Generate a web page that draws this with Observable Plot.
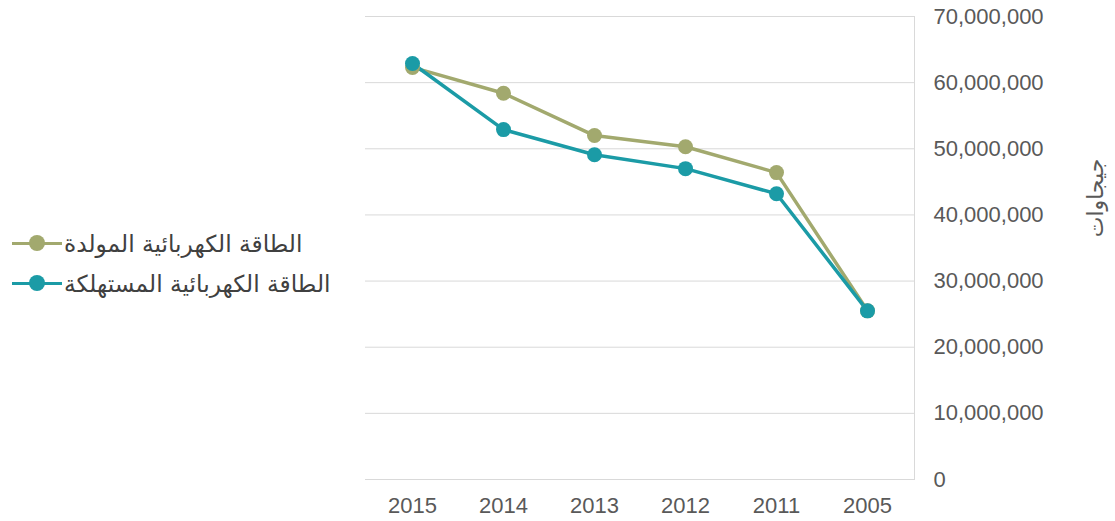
<!DOCTYPE html>
<html>
<head>
<meta charset="utf-8">
<script src="https://cdn.jsdelivr.net/npm/d3@7"></script>
<script src="https://cdn.jsdelivr.net/npm/@observablehq/plot@0.6"></script>
<style>
  html, body { margin: 0; padding: 0; background: #fff; }
  body { width: 1115px; height: 521px; position: relative; overflow: hidden;
         font-family: "Liberation Sans", "DejaVu Sans", Arial, sans-serif; }
  #chart { position: absolute; left: 0; top: 0; }
  #legend { position: absolute; left: 12px; top: 223px; color: #404040; font-size: 23.3px;
            font-family: "DejaVu Sans", "Noto Sans", sans-serif; }
  .item { display: flex; align-items: center; height: 40px; }
  .sym { position: relative; width: 50px; height: 16px; margin-right: 2px; }
  .sym .ln { position: absolute; left: 0; right: 0; top: 6.5px; height: 3px; }
  .sym .dt { position: absolute; left: 17px; top: 0; width: 16px; height: 16px; border-radius: 50%; }
</style>
</head>
<body>
<div id="chart"></div>
<div id="legend"></div>
<script>
const years = ["2015", "2014", "2013", "2012", "2011", "2005"];
const generated = [62300000, 58400000, 52000000, 50300000, 46400000, 25500000];
const consumed = [62900000, 52900000, 49100000, 47000000, 43200000, 25500000];
const seriesNames = ["الطاقة الكهربائية المولدة", "الطاقة الكهربائية المستهلكة"];
const seriesColors = ["#a2a96e", "#1b9ba6"];
const yTicks = [0, 10000000, 20000000, 30000000, 40000000, 50000000, 60000000, 70000000];
const yTitle = "جيجاوات";

const data = [];
years.forEach((yr, i) => {
  data.push({year: yr, value: generated[i], series: seriesNames[0]});
  data.push({year: yr, value: consumed[i], series: seriesNames[1]});
});

const fmt = d3.format(",");

const chart = Plot.plot({
  width: 1115,
  height: 521,
  marginLeft: 365,
  marginRight: 201,
  marginTop: 16,
  marginBottom: 42,
  style: {fontFamily: '"Liberation Sans", Arial, sans-serif', fontSize: "22px", color: "#595959", background: "#fff"},
  x: {type: "point", domain: years, padding: 0.5, label: null},
  y: {domain: [0, 70000000], ticks: yTicks, label: null},
  color: {domain: seriesNames, range: seriesColors},
  marks: [
    Plot.ruleY(yTicks, {stroke: "#d9d9d9", strokeWidth: 1}),
    Plot.frame({anchor: "right", stroke: "#d9d9d9"}),
    Plot.axisX({tickSize: 0, tickPadding: 18, fontSize: 22, fill: "#595959"}),
    Plot.axisY({anchor: "right", ticks: yTicks, tickSize: 0, tickPadding: 19, tickFormat: fmt, fontSize: 22, fill: "#595959", textAnchor: "start"}),
    Plot.text([yTitle], {frameAnchor: "right", dx: 181, dy: -50, rotate: -90, textAnchor: "middle", lineAnchor: "middle", fontSize: 22, fill: "#595959", text: d => d, fontFamily: '"DejaVu Sans", sans-serif'}),
    Plot.line(data, {x: "year", y: "value", stroke: "series", z: "series", strokeWidth: 3.5}),
    Plot.dot(data, {x: "year", y: "value", fill: "series", r: 7.5})
  ]
});
document.getElementById("chart").appendChild(chart);

const legend = document.getElementById("legend");
seriesNames.forEach((name, i) => {
  const item = document.createElement("div");
  item.className = "item";
  item.innerHTML = `<div class="sym"><div class="ln" style="background:${seriesColors[i]}"></div><div class="dt" style="background:${seriesColors[i]}"></div></div><span dir="rtl">${name}</span>`;
  legend.appendChild(item);
});
</script>
</body>
</html>
